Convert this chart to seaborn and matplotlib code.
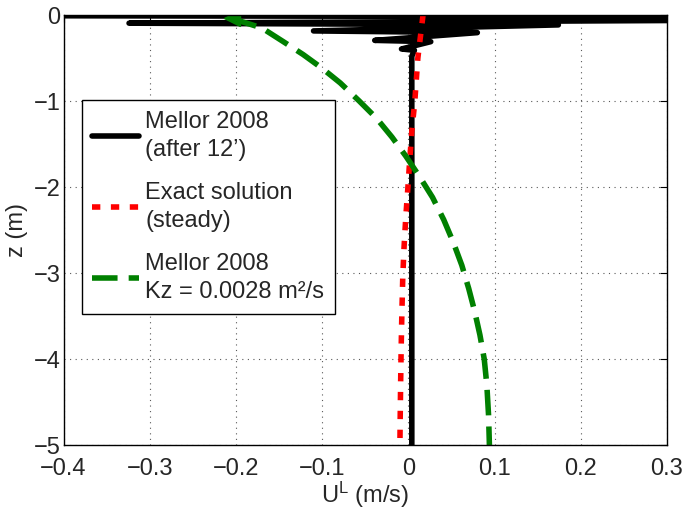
import matplotlib
matplotlib.use("Agg")
import matplotlib.pyplot as plt
import seaborn as sns

# Mellor 2008 after 12' (u, z): zigzag near the surface, then straight down
mellor_u = [-1.0, 1.0, -0.324, 0.174, -0.11, 0.08, -0.039, 0.026, -0.008, 0.007, 0.004, 0.004, 0.004]
mellor_z = [0.0, -0.03, -0.095, -0.115, -0.185, -0.205, -0.295, -0.31, -0.395, -0.41, -0.48, -1.0, -5.0]

# Exact steady solution
exact_u = [0.017, 0.011, 0.0075, 0.004, 0.0015, -0.0005, -0.003, -0.005, -0.0065, -0.0075, -0.0083, -0.009, -0.0095, -0.0098]
exact_z = [0.0, -0.5, -1.0, -1.35, -1.7, -2.0, -2.35, -2.7, -3.05, -3.45, -3.85, -4.3, -4.7, -5.0]

# Mellor 2008 with constant Kz
kz_u = [-0.205, -0.170, -0.145, -0.122, -0.100, -0.079, -0.057, -0.037, -0.019, -0.003, 0.013,
        0.028, 0.041, 0.052, 0.062, 0.070, 0.077, 0.083, 0.088, 0.091, 0.093, 0.094]
kz_z = [-0.04, -0.15, -0.31, -0.46, -0.62, -0.79, -1.0, -1.2, -1.42, -1.64, -1.88,
        -2.12, -2.38, -2.64, -2.91, -3.18, -3.45, -3.72, -4.0, -4.3, -4.65, -5.0]

labels = ["Mellor 2008\n(after 12\u2019)", "Exact solution\n(steady)", "Mellor 2008\nKz = 0.0028 m\u00b2/s"]

xticks = [-0.4, -0.3, -0.2, -0.1, 0.0, 0.1, 0.2, 0.3]
xticklabels = ["\u22120.4", "\u22120.3", "\u22120.2", "\u22120.1", "0", "0.1", "0.2", "0.3"]
yticks = [-5, -4, -3, -2, -1, 0]
yticklabels = ["\u22125", "\u22124", "\u22123", "\u22122", "\u22121", "0"]

sns.set_style("white")
plt.rcParams["font.family"] = ["Liberation Sans", "DejaVu Sans"]
plt.rcParams["mathtext.fontset"] = "custom"
plt.rcParams["mathtext.rm"] = "Liberation Sans"
plt.rcParams["mathtext.default"] = "regular"
FS = 17
LW = 4.0

fig = plt.figure(figsize=(6.86, 5.14), dpi=100)
ax = fig.add_axes([0.0926, 0.1342, 0.8797, 0.8366])

sns.lineplot(x=mellor_u, y=mellor_z, sort=False, estimator=None, ax=ax,
             color="black", label=labels[0])
sns.lineplot(x=exact_u, y=exact_z, sort=False, estimator=None, ax=ax,
             color="red", label=labels[1])
sns.lineplot(x=kz_u, y=kz_z, sort=False, estimator=None, ax=ax,
             color="green", label=labels[2])
lines = ax.get_lines()
for ln in lines[:3]:
    ln.set_linewidth(LW)
    ln.set_solid_joinstyle("round")
    ln.set_dash_joinstyle("round")
lines[0].set_solid_capstyle("round")
lines[1].set_linestyle((0, (1.5, 1.9)))
lines[1].set_dash_capstyle("butt")
lines[2].set_linestyle((0, (4.6, 2.0)))
lines[2].set_dash_capstyle("butt")
# arrow-like start of the Kz curve
ax.plot(kz_u[:1], kz_z[:1], marker="<", color="green", ms=12, ls="none")

ax.set_xlim(-0.4, 0.3)
ax.set_ylim(-5, 0)
ax.set_xticks(xticks)
ax.set_xticklabels(xticklabels)
ax.set_yticks(yticks)
ax.set_yticklabels(yticklabels)
ax.tick_params(direction="in", length=5, width=0.8, labelsize=FS, top=True, right=True,
               color="black")
ax.tick_params(axis="x", pad=9)
ax.tick_params(axis="y", pad=2)
ax.grid(True, linestyle=(0, (1, 4)), color="0.35", lw=0.8)
for sp in ax.spines.values():
    sp.set_color("black")
    sp.set_linewidth(1.0)

ax.set_xlabel("U$^{L}$ (m/s)", fontsize=FS, labelpad=0)
ax.set_ylabel("z (m)", fontsize=FS, labelpad=4)

leg = ax.legend(handles=lines[:3], labels=labels, loc="upper left",
                bbox_to_anchor=(0.030, 0.802), borderaxespad=0, fontsize=FS,
                frameon=True, fancybox=False, edgecolor="black", framealpha=1,
                handlelength=2.0, handletextpad=0.25, borderpad=0.45, labelspacing=0.9)
leg.get_frame().set_linewidth(1.0)
for t in leg.get_texts():
    t.set_linespacing(1.35)

fig.savefig("out.png", dpi=100)
